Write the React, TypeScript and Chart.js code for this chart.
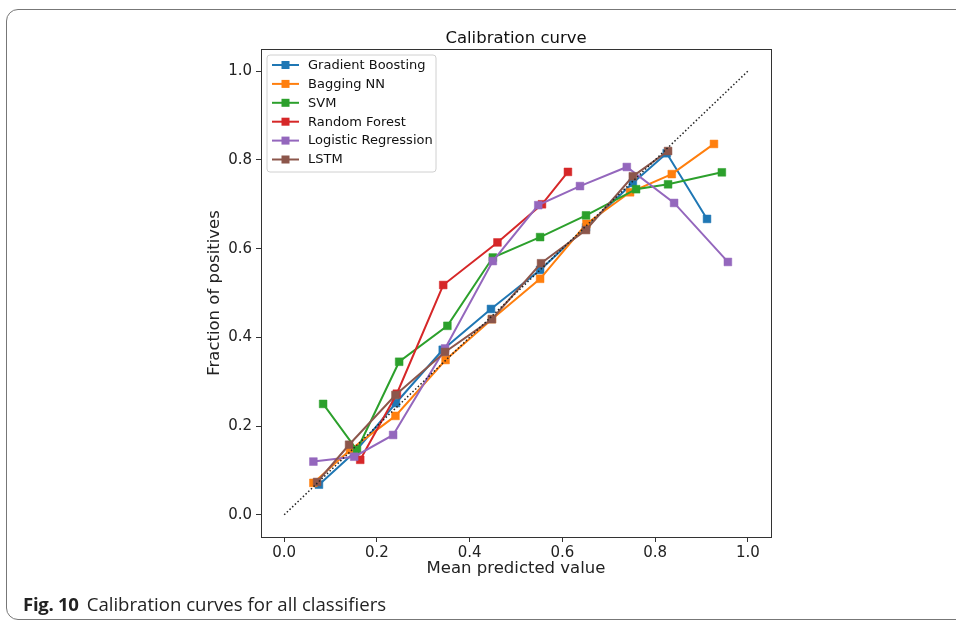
import React, { useEffect, useRef } from "react";
import { Chart, registerables } from "chart.js";

Chart.register(...registerables);

const seriesNames = ["Gradient Boosting", "Bagging NN", "SVM", "Random Forest", "Logistic Regression", "LSTM"];
const seriesColors = ["#1f77b4", "#ff7f0e", "#2ca02c", "#d62728", "#9467bd", "#8c564b"];

const gbX = [0.075, 0.153, 0.241, 0.342, 0.446, 0.552, 0.651, 0.752, 0.825, 0.912];
const gbY = [0.068, 0.142, 0.252, 0.372, 0.464, 0.552, 0.648, 0.748, 0.815, 0.667];

const bagX = [0.063, 0.142, 0.240, 0.348, 0.448, 0.552, 0.652, 0.746, 0.836, 0.927];
const bagY = [0.072, 0.146, 0.223, 0.349, 0.441, 0.532, 0.656, 0.727, 0.768, 0.836];

const svmX = [0.084, 0.157, 0.248, 0.352, 0.450, 0.552, 0.651, 0.759, 0.828, 0.944];
const svmY = [0.250, 0.146, 0.345, 0.426, 0.580, 0.626, 0.675, 0.734, 0.745, 0.772];

const rfX = [0.164, 0.243, 0.343, 0.460, 0.556, 0.612];
const rfY = [0.124, 0.273, 0.518, 0.614, 0.700, 0.773];

const lrX = [0.063, 0.151, 0.235, 0.347, 0.450, 0.548, 0.638, 0.739, 0.841, 0.957];
const lrY = [0.120, 0.131, 0.180, 0.375, 0.572, 0.698, 0.741, 0.784, 0.703, 0.570];

const lstmX = [0.071, 0.140, 0.240, 0.347, 0.448, 0.554, 0.651, 0.752, 0.828];
const lstmY = [0.074, 0.158, 0.270, 0.367, 0.441, 0.567, 0.642, 0.763, 0.820];

const diagX = [0, 1];
const diagY = [0, 1];

const xTicks = [0, 0.2, 0.4, 0.6, 0.8, 1.0];
const yTicks = [0, 0.2, 0.4, 0.6, 0.8, 1.0];

const chartTitle = "Calibration curve";
const xLabel = "Mean predicted value";
const yLabel = "Fraction of positives";

const allX = [gbX, bagX, svmX, rfX, lrX, lstmX];
const allY = [gbY, bagY, svmY, rfY, lrY, lstmY];

const FONT = "'DejaVu Sans', sans-serif";

const overlayPlugin = {
  id: "overlay",
  afterDraw(chart: any) {
    const { ctx, chartArea } = chart;
    const { left, right, top, bottom } = chartArea;
    ctx.save();
    // spines
    ctx.strokeStyle = "#333";
    ctx.lineWidth = 1;
    ctx.strokeRect(Math.round(left) + 0.5, Math.round(top) + 0.5, Math.round(right - left), Math.round(bottom - top));
    // title
    ctx.fillStyle = "#111";
    ctx.font = `16.5px ${FONT}`;
    ctx.textAlign = "center";
    ctx.textBaseline = "alphabetic";
    ctx.fillText(chartTitle, (left + right) / 2, top - 6);
    // legend
    const bx = left + 6, by = top + 6, bw = 169, bh = 117;
    ctx.beginPath();
    const r = 3;
    ctx.moveTo(bx + r, by);
    ctx.lineTo(bx + bw - r, by);
    ctx.quadraticCurveTo(bx + bw, by, bx + bw, by + r);
    ctx.lineTo(bx + bw, by + bh - r);
    ctx.quadraticCurveTo(bx + bw, by + bh, bx + bw - r, by + bh);
    ctx.lineTo(bx + r, by + bh);
    ctx.quadraticCurveTo(bx, by + bh, bx, by + bh - r);
    ctx.lineTo(bx, by + r);
    ctx.quadraticCurveTo(bx, by, bx + r, by);
    ctx.closePath();
    ctx.fillStyle = "rgba(255,255,255,0.8)";
    ctx.fill();
    ctx.strokeStyle = "#d0d0d0";
    ctx.stroke();
    ctx.font = `13px ${FONT}`;
    ctx.textAlign = "left";
    ctx.textBaseline = "middle";
    seriesNames.forEach((name, i) => {
      const y = by + 10 + i * 18.9;
      const c = seriesColors[i];
      ctx.strokeStyle = c;
      ctx.lineWidth = 2;
      ctx.beginPath();
      ctx.moveTo(bx + 5, y);
      ctx.lineTo(bx + 32, y);
      ctx.stroke();
      ctx.fillStyle = c;
      ctx.fillRect(bx + 18.5 - 4, y - 4, 8, 8);
      ctx.fillStyle = "#111";
      ctx.fillText(name, bx + 41, y + 0.5);
    });
    ctx.restore();
  },
};

export default function App() {
  const ref = useRef<HTMLCanvasElement | null>(null);

  useEffect(() => {
    if (!ref.current) return;
    const datasets: any[] = [
      {
        label: "Perfectly calibrated",
        data: diagX.map((x, i) => ({ x, y: diagY[i] })),
        borderColor: "#222",
        borderWidth: 1.5,
        borderDash: [1.5, 2.2],
        pointRadius: 0,
        order: 0,
      },
    ];
    seriesNames.forEach((name, i) => {
      datasets.push({
        label: name,
        data: allX[i].map((x, j) => ({ x, y: allY[i][j] })),
        borderColor: seriesColors[i],
        backgroundColor: seriesColors[i],
        pointBackgroundColor: seriesColors[i],
        pointBorderColor: seriesColors[i],
        borderWidth: 2,
        pointStyle: "rect",
        pointRadius: 5.5,
        pointBorderWidth: 0.5,
        order: 6 - i,
      });
    });

    const tickFont = { family: FONT, size: 15 };
    const chart = new Chart(ref.current, {
      type: "line",
      data: { datasets },
      plugins: [overlayPlugin],
      options: {
        animation: false,
        responsive: false,
        maintainAspectRatio: false,
        layout: { padding: { left: 200, right: 185, top: 49, bottom: 42 } },
        plugins: { legend: { display: false }, tooltip: { enabled: false }, title: { display: false } },
        scales: {
          x: {
            type: "linear",
            min: -0.05,
            max: 1.05,
            afterBuildTicks: (s: any) => {
              s.ticks = xTicks.map((v) => ({ value: v }));
            },
            afterFit: (s: any) => {
              s.height = 45;
            },
            ticks: {
              font: tickFont,
              color: "#222",
              padding: 2,
              maxRotation: 0,
              callback: (v: any) => Number(v).toFixed(1),
            },
            grid: { drawOnChartArea: false, drawTicks: true, tickLength: 5, color: "#333" },
            border: { display: false },
            title: {
              display: true,
              text: xLabel,
              font: { family: FONT, size: 16.5 },
              color: "#222",
              padding: { top: 0, bottom: 3 },
            },
          },
          y: {
            type: "linear",
            min: -0.05,
            max: 1.05,
            afterBuildTicks: (s: any) => {
              s.ticks = yTicks.map((v) => ({ value: v }));
            },
            afterFit: (s: any) => {
              s.width = 61;
            },
            ticks: {
              font: tickFont,
              color: "#222",
              padding: 4,
              callback: (v: any) => Number(v).toFixed(1),
            },
            grid: { drawOnChartArea: false, drawTicks: true, tickLength: 5, color: "#333" },
            border: { display: false },
            title: {
              display: true,
              text: yLabel,
              font: { family: FONT, size: 16.5 },
              color: "#222",
              padding: { top: 5, bottom: 0 },
            },
          },
        },
      } as any,
    });
    return () => chart.destroy();
  }, []);

  return (
    <div style={{ position: "absolute", left: 0, top: 0, width: 956, height: 624, overflow: "hidden", background: "#fff" }}>
      <div
        style={{
          position: "absolute",
          left: 6,
          top: 9,
          width: 1100,
          height: 611,
          border: "1px solid #777",
          borderRadius: 12,
          boxSizing: "border-box",
        }}
      />
      <canvas ref={ref} width={956} height={624} style={{ position: "absolute", left: 0, top: 0, width: 956, height: 624 }} />
      <div
        style={{
          position: "absolute",
          left: 23,
          top: 593,
          fontFamily: "'Open Sans', sans-serif",
          fontSize: 18.6,
          lineHeight: "22px",
          color: "#222",
          whiteSpace: "nowrap",
        }}
      >
        <span style={{ fontWeight: 700, letterSpacing: "-0.3px" }}>Fig. 10</span>
        <span style={{ marginLeft: 8 }}>Calibration curves for all classifiers</span>
      </div>
    </div>
  );
}
